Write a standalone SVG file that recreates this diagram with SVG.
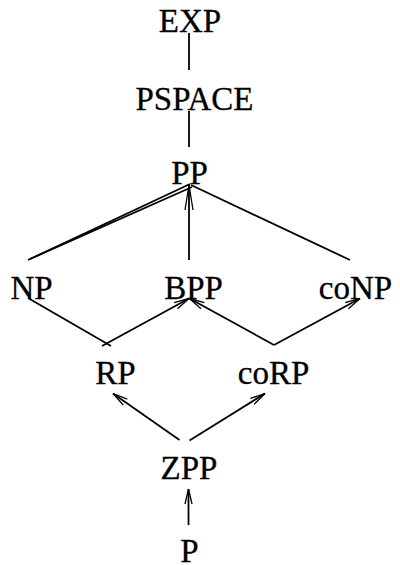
<svg xmlns="http://www.w3.org/2000/svg" width="400" height="565" viewBox="0 0 400 565">
  <style>
    .lbl { font-family: 'Liberation Serif', 'Times New Roman', Times, serif; font-size: 33px; fill: #000; stroke: #000; stroke-width: 0.3; text-anchor: middle; }
    .edge { fill: none; stroke: #000; stroke-width: 1.8; }
    .arr { marker-end: url(#head); }
  </style>
  <defs>
    <!-- open two-stroke arrowheads -->
    <marker id="head" markerUnits="userSpaceOnUse" markerWidth="24" markerHeight="12" refX="16" refY="6" orient="auto" overflow="visible">
      <path d="M16,6 L1,2.5 M16,6 L1,9.5" fill="none" stroke="#000" stroke-width="1.3"/>
    </marker>
    <marker id="headLong" markerUnits="userSpaceOnUse" markerWidth="30" markerHeight="12" refX="26" refY="6" orient="auto" overflow="visible">
      <path d="M26,6 L1,2 M26,6 L1,10" fill="none" stroke="#000" stroke-width="1.3"/>
    </marker>
  </defs>

  <!-- connectors -->
  <g id="edges">
    <line class="edge" x1="189" y1="33" x2="189" y2="70"/>
    <line class="edge" x1="189" y1="111" x2="189" y2="147"/>
    <!-- NP to PP (double stroke) -->
    <line class="edge" x1="28" y1="260" x2="190" y2="184"/>
    <line class="edge" x1="30" y1="259" x2="192" y2="187"/>
    <!-- BPP to PP -->
    <line class="edge" x1="189" y1="260" x2="189" y2="185" marker-end="url(#headLong)"/>
    <!-- PP to coNP -->
    <line class="edge" x1="191" y1="185" x2="350" y2="260"/>
    <!-- NP down to RP corner, then up to BPP -->
    <line class="edge" x1="28" y1="298" x2="111" y2="346"/>
    <line class="edge arr" x1="102" y1="346" x2="189" y2="298.5"/>
    <!-- coRP corner to BPP and coNP -->
    <line class="edge arr" x1="274" y1="345" x2="189.5" y2="298.5"/>
    <line class="edge arr" x1="274" y1="345" x2="360" y2="298.5"/>
    <!-- ZPP to RP and coRP -->
    <line class="edge arr" x1="179.5" y1="440" x2="113" y2="393.5"/>
    <line class="edge arr" x1="189.5" y1="440.5" x2="265" y2="393.5"/>
    <!-- P to ZPP -->
    <line class="edge arr" x1="188.5" y1="525" x2="188.5" y2="489"/>
  </g>

  <!-- nodes -->
  <g id="EXP"><text class="lbl" x="190" y="32">EXP</text></g>
  <g id="PSPACE"><text class="lbl" x="194.5" y="110">PSPACE</text></g>
  <g id="PP"><text class="lbl" x="189.5" y="183.5">PP</text></g>
  <g id="NP"><text class="lbl" x="31.5" y="298.5">NP</text></g>
  <g id="BPP"><text class="lbl" x="193.5" y="298.5">BPP</text></g>
  <g id="coNP"><text class="lbl" x="355.5" y="298.5">coNP</text></g>
  <g id="RP"><text class="lbl" x="115.5" y="383.5">RP</text></g>
  <g id="coRP"><text class="lbl" x="273.5" y="383.5">coRP</text></g>
  <g id="ZPP"><text class="lbl" x="189" y="478.5">ZPP</text></g>
  <g id="P"><text class="lbl" x="189.5" y="561.5">P</text></g>
</svg>
